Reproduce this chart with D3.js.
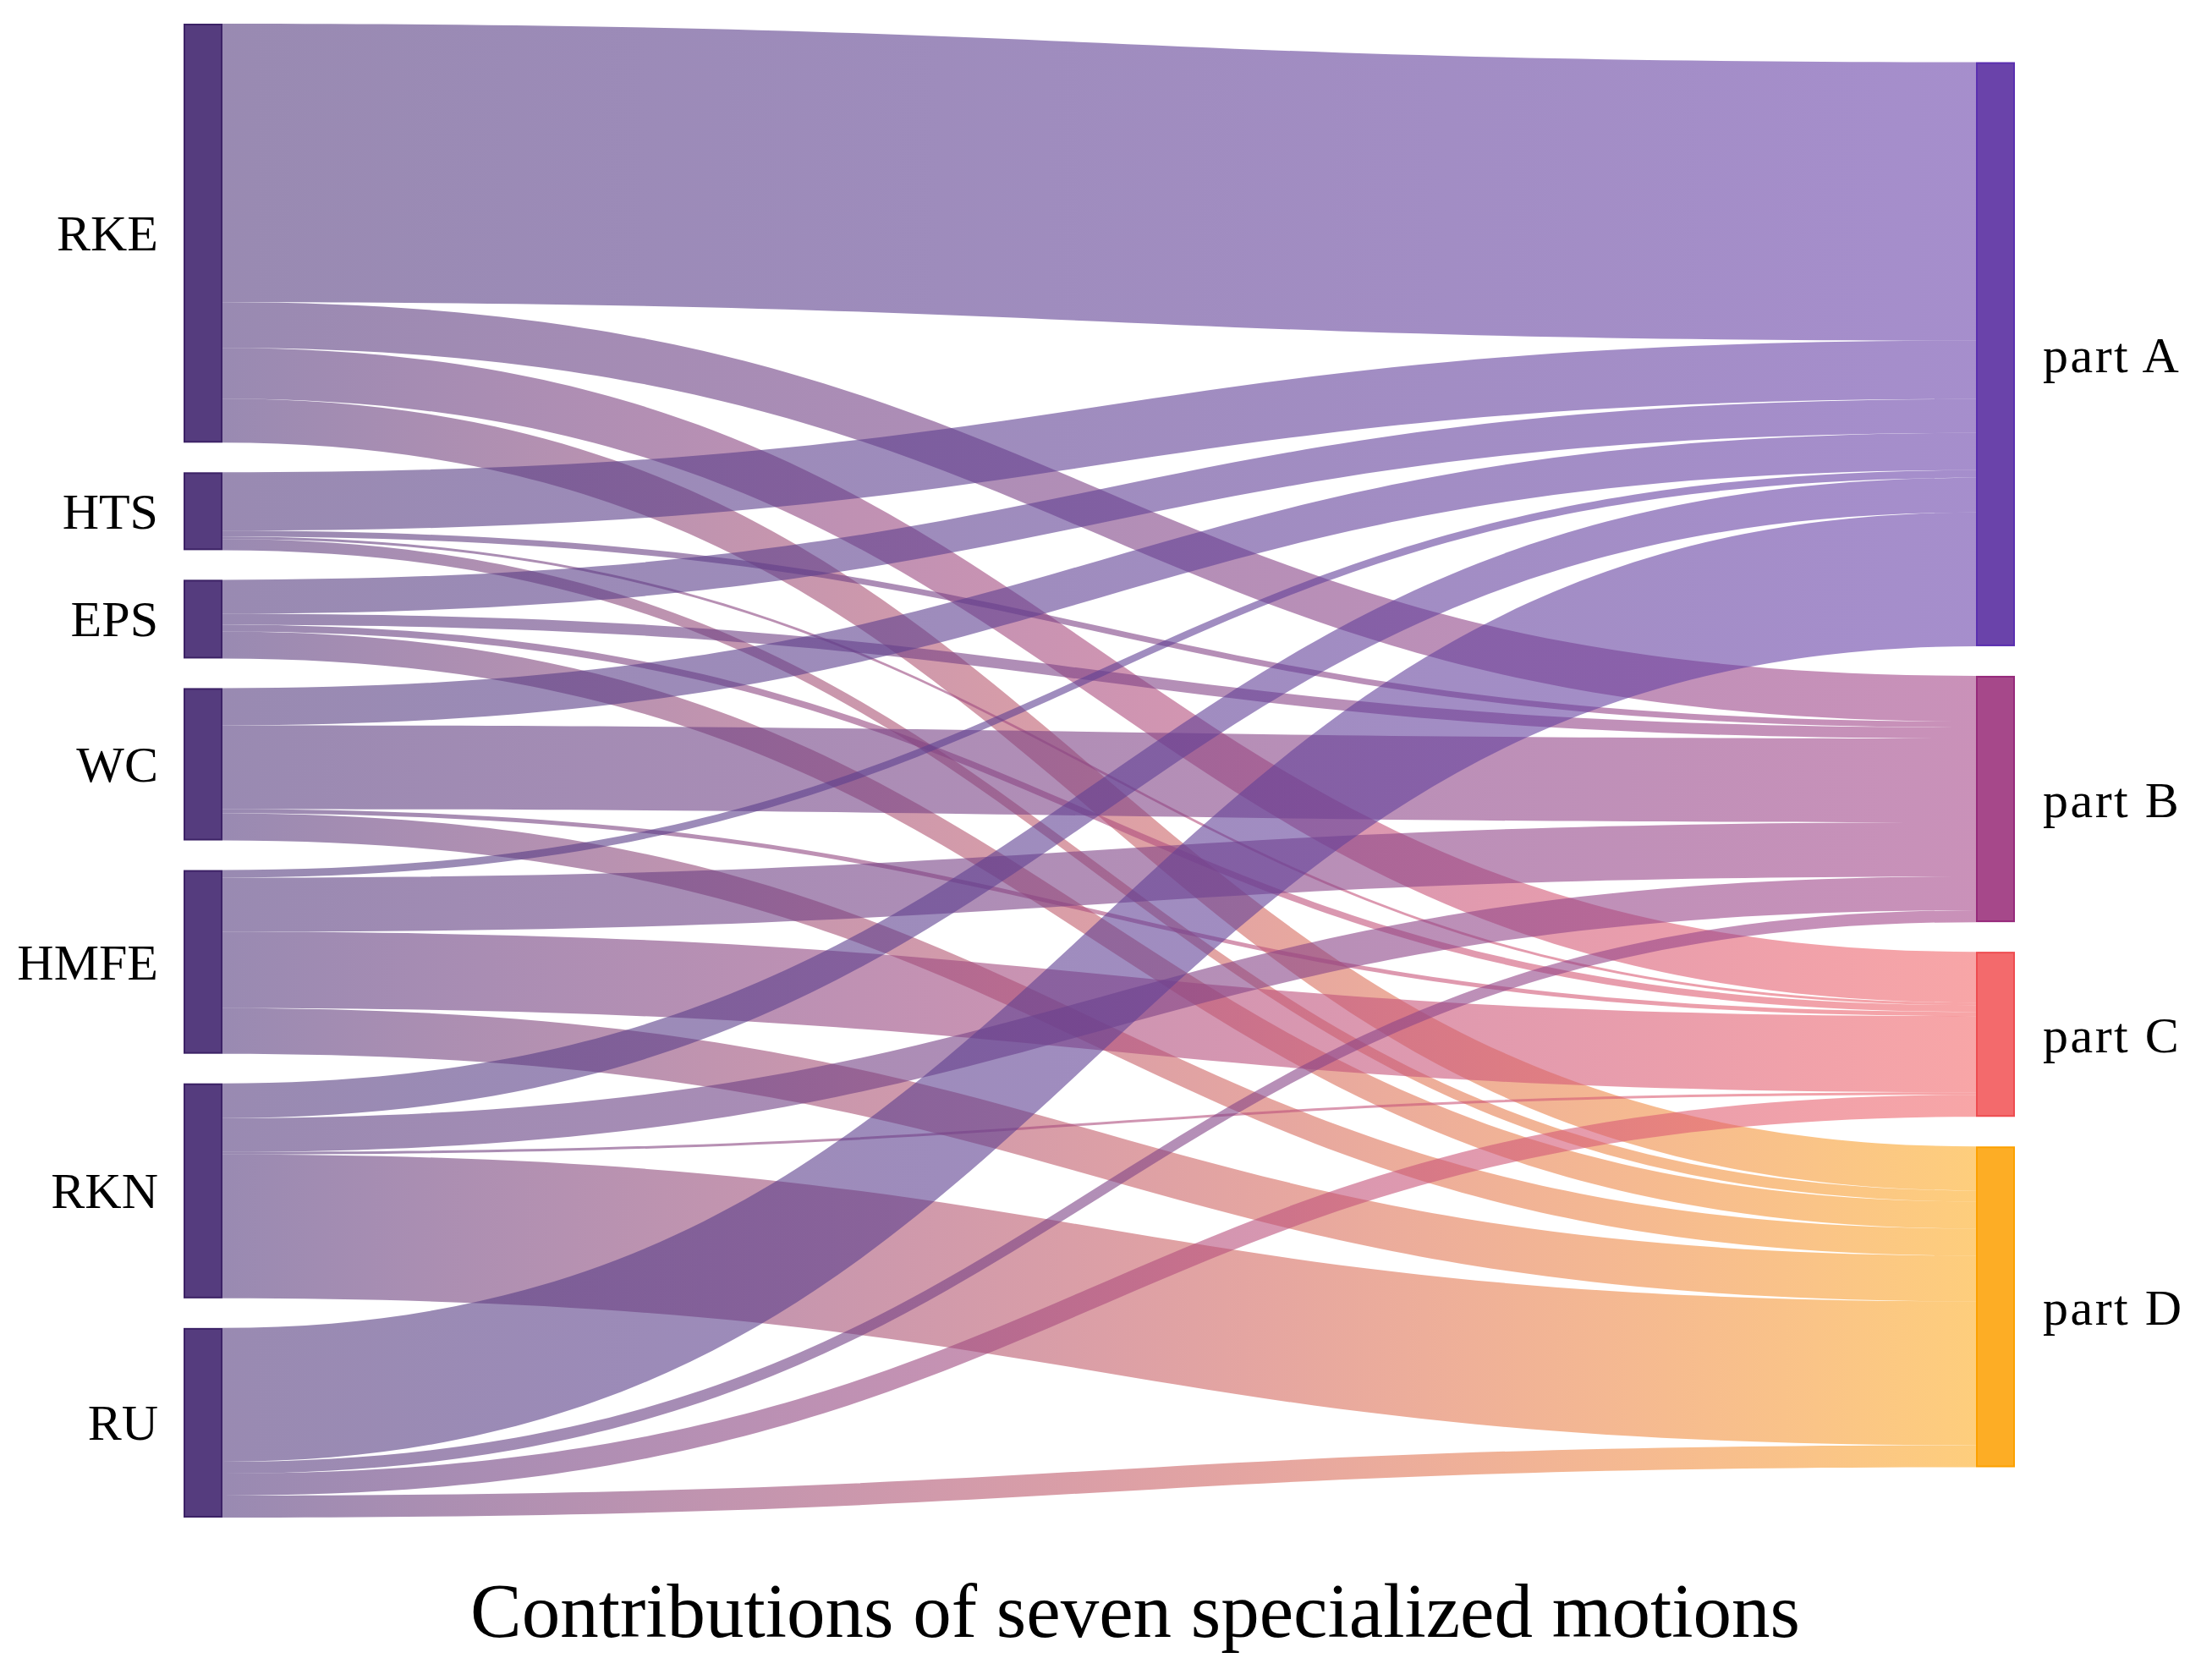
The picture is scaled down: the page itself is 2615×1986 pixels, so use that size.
<!DOCTYPE html>
<html><head><meta charset="utf-8">
<script src="https://cdn.jsdelivr.net/npm/d3@7"></script>
<style>html,body{margin:0;padding:0;background:#fff}</style>
</head><body><div id="chart"></div>
<script>
// ---- data ----
const sources = ["RKE", "HTS", "EPS", "WC", "HMFE", "RKN", "RU"];
const targets = ["part A", "part B", "part C", "part D"];
// flow from each source (in order above) into each target part
const toPartA = [329, 69, 40, 44, 9, 41, 158];
const toPartB = [54, 7, 13, 99, 64, 40, 14];
const toPartC = [60, 3, 8, 5, 90, 3, 26];
const toPartD = [52, 13, 32, 32, 54, 170, 26];
const chartTitle = "Contributions of seven specialized motions";
const sourceColors = ["#553c7e", "#553c7e", "#553c7e", "#553c7e", "#553c7e", "#553c7e", "#553c7e"];
const sourceStroke = "#3c2266";
const targetColors = ["#6a43aa", "#a6488a", "#f36a6c", "#fdad25"];
const targetStrokes = ["#5a2fb0", "#962a7b", "#ee4c50", "#fca000"];

// ---- layout ----
const W = 2615, H = 1986;
const plotTop = 28, plotBottom = 1794;
const nodeWidth = 46, nodePad = 35;
const rightShift = -7;
const flows = [toPartA, toPartB, toPartC, toPartD];

const srcTotals = sources.map((_, i) => d3.sum(flows, f => f[i]));
const tgtTotals = flows.map(f => d3.sum(f));
const colTotal = Math.max(d3.sum(srcTotals), d3.sum(tgtTotals));
const maxN = Math.max(sources.length, targets.length);

const ky = d3.scaleLinear().domain([0, colTotal]).range([0, (plotBottom - plotTop) - (maxN - 1) * nodePad]);
const xCol = d3.scaleLinear().domain([0, 1]).range([217, 2336]);

function stack(totals, col, shift) {
  const h = d3.sum(totals, v => ky(v)) + (totals.length - 1) * nodePad;
  let y0 = plotTop + ((plotBottom - plotTop) - h) / 2 + shift;
  return totals.map((v, i) => {
    const n = { i, col, value: v, x0: xCol(col), x1: xCol(col) + nodeWidth, y0, y1: y0 + ky(v) };
    y0 = n.y1 + nodePad;
    return n;
  });
}
const srcNodes = stack(srcTotals, 0, 0);
const tgtNodes = stack(tgtTotals, 1, rightShift);

const links = [];
sources.forEach((s, si) => {
  let sy = srcNodes[si].y0;
  flows.forEach((f, ti) => {
    const w = ky(f[si]);
    links.push({ si, ti, value: f[si], sy0: sy, sy1: sy + w });
    sy += w;
  });
});
targets.forEach((t, ti) => {
  let ty = tgtNodes[ti].y0;
  sources.forEach((s, si) => {
    const l = links.find(d => d.si === si && d.ti === ti);
    const w = ky(l.value);
    l.ty0 = ty; l.ty1 = ty + w;
    ty += w;
  });
});

// ---- draw ----
const svg = d3.select("#chart").append("svg")
  .attr("width", W).attr("height", H)
  .attr("viewBox", [0, 0, W, H]);
svg.append("rect").attr("width", W).attr("height", H).attr("fill", "#fff");

const defs = svg.append("defs");
links.forEach((l, k) => {
  const g = defs.append("linearGradient")
    .attr("id", "lg" + k)
    .attr("gradientUnits", "userSpaceOnUse")
    .attr("x1", srcNodes[l.si].x1).attr("x2", tgtNodes[l.ti].x0)
    .attr("y1", 0).attr("y2", 0);
  const iLab = d3.interpolateLab(sourceColors[l.si], targetColors[l.ti]);
  const iHcl = d3.interpolateHcl(sourceColors[l.si], targetColors[l.ti]);
  d3.range(0, 1.0001, 0.1).forEach(t => {
    g.append("stop").attr("offset", (t * 100).toFixed(0) + "%")
      .attr("stop-color", d3.interpolateRgb(iLab(t), iHcl(t))(0.5));
  });
});

function linkPath(l) {
  const x0 = srcNodes[l.si].x1, x1 = tgtNodes[l.ti].x0;
  const xm = d3.interpolateNumber(x0, x1)(0.5);
  const p = d3.path();
  p.moveTo(x0, l.sy0);
  p.bezierCurveTo(xm, l.sy0, xm, l.ty0, x1, l.ty0);
  p.lineTo(x1, l.ty1);
  p.bezierCurveTo(xm, l.ty1, xm, l.sy1, x0, l.sy1);
  p.closePath();
  return p.toString();
}

svg.append("g").selectAll("path")
  .data(links.filter(l => l.value > 0))
  .join("path")
  .attr("d", linkPath)
  .attr("fill", (l) => "url(#lg" + links.indexOf(l) + ")")
  .attr("fill-opacity", 0.6);

svg.append("g").selectAll("rect")
  .data(srcNodes).join("rect")
  .attr("x", d => d.x0 + 1).attr("y", d => d.y0 + 1)
  .attr("width", d => d.x1 - d.x0 - 2).attr("height", d => d.y1 - d.y0 - 2)
  .attr("fill", (d, i) => sourceColors[i])
  .attr("stroke", sourceStroke).attr("stroke-width", 2);

svg.append("g").selectAll("rect")
  .data(tgtNodes).join("rect")
  .attr("x", d => d.x0 + 1).attr("y", d => d.y0 + 1)
  .attr("width", d => d.x1 - d.x0 - 2).attr("height", d => d.y1 - d.y0 - 2)
  .attr("fill", (d, i) => targetColors[i])
  .attr("stroke", (d, i) => targetStrokes[i]).attr("stroke-width", 2);

const font = "'Liberation Serif', 'DejaVu Serif', serif";
svg.append("g").selectAll("text")
  .data(srcNodes).join("text")
  .attr("x", d => d.x0 - 30)
  .attr("y", d => (d.y0 + d.y1) / 2)
  .attr("dy", "0.34em")
  .attr("text-anchor", "end")
  .attr("font-family", font).attr("font-size", 60).attr("fill", "#000")
  .text((d, i) => sources[i]);

svg.append("g").selectAll("text")
  .data(tgtNodes).join("text")
  .attr("x", d => d.x1 + 33)
  .attr("y", d => (d.y0 + d.y1) / 2)
  .attr("dy", "0.36em")
  .attr("text-anchor", "start")
  .attr("letter-spacing", "2.5px")
  .attr("font-family", font).attr("font-size", 60).attr("fill", "#000")
  .text((d, i) => targets[i]);

svg.append("text")
  .attr("x", 1342).attr("y", 1935)
  .attr("text-anchor", "middle")
  .attr("font-family", font).attr("font-size", 91).attr("fill", "#000")
  .text(chartTitle);
</script>
</body></html>
